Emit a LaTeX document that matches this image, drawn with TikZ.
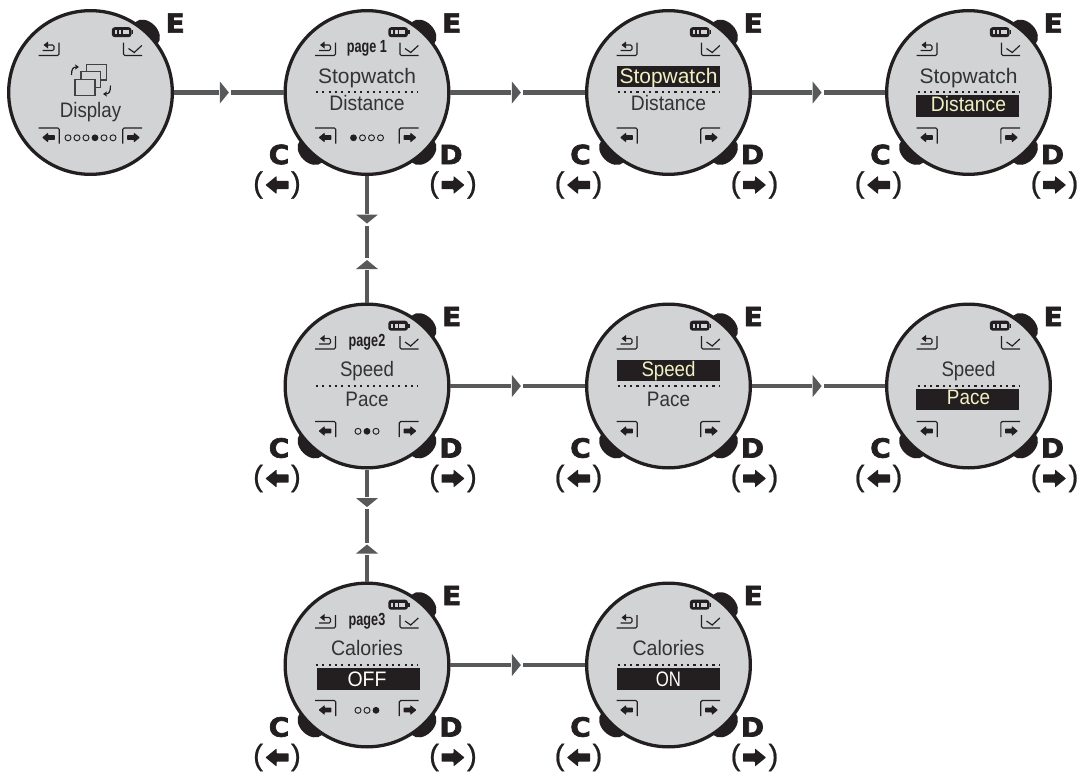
\documentclass[tikz,border=0pt]{standalone}
\usepackage{fontspec}
\usepackage{graphicx}
\setmainfont{Liberation Sans}
\newfontfamily\keyfont[FakeBold=2.6,FakeStretch=1.06]{DejaVu Sans Bold}
\newfontfamily\parenfont[FakeBold=0.8]{Liberation Sans}
\usetikzlibrary{decorations.markings,arrows.meta}
\definecolor{ink}{HTML}{231F20}
\definecolor{lcdgrey}{HTML}{D1D3D4}
\definecolor{connect}{HTML}{58595B}
\definecolor{lcdtext}{HTML}{333335}
\definecolor{lit}{HTML}{F1F0C4}
\newcommand\tipshape{%
  \fill[white] (-5.5,-2.9) rectangle (6.5,2.9);
  \fill[connect] (-4.5,-11) -- (4.5,0) -- (-4.5,11) -- cycle;}
\tikzset{
  x=0.03cm,y=-0.03cm,
  disc/.style={circle,draw=ink,fill=lcdgrey,line width=2.8pt,inner sep=0pt,outer sep=1.4pt,minimum size=4.911cm},
  blob/.style={fill=ink},
  conn/.style={draw=connect,line width=3.5pt},
  tipfwd/.style={postaction={decorate,decoration={markings,mark=at position #1 with {\tipshape}}}},
  tiprev/.style={postaction={decorate,decoration={markings,mark=at position #1 with {\begin{scope}[xscale=-1]\tipshape\end{scope}}}}},
  keyletter/.style={inner sep=0pt,text=ink,font=\keyfont\fontsize{22.5pt}{24pt}\selectfont},
  parens/.style={inner sep=0pt,text=ink,font=\parenfont\fontsize{25pt}{27pt}\selectfont},
  lcdline/.style={inner sep=0pt,anchor=base,text=lcdtext,font=\fontsize{17.9pt}{20pt}\selectfont},
  lcdlit/.style={lcdline,text=lit},
  lcdwhite/.style={lcdline,text=white!92!lit},
  pagelabel/.style={inner sep=0pt,anchor=base,text=ink,font=\bfseries\fontsize{15pt}{17pt}\selectfont},
  softline/.style={draw=ink,line width=0.95pt,line cap=butt,rounded corners=1.2pt},
  hilite/.style={fill=ink},
  dotline/.style={draw=ink,line width=1.7pt,dash pattern=on 1.8pt off 3.6pt},
  pagedot/.style={draw=ink,line width=0.8pt},
  stack/.style={draw=ink!85,fill=lcdgrey,line width=1.1pt},
  hook/.style={draw=ink,line width=1pt,-{Stealth[length=3.5pt,width=4.5pt]}},
  pics/leftglyph/.style={code={
    \fill[ink,rounded corners=0.5pt] (-11.5,0) -- (-0.5,-9) -- (-0.5,-4.2) -- (11.5,-4.2) -- (11.5,4.2) -- (-0.5,4.2) -- (-0.5,9) -- cycle;}},
}
\newcommand\scaledtext[2]{\scalebox{#1}[1]{#2}}
\newcommand\watch[4]{% name, cx, cy, has C/D keys
  \begin{scope}[shift={(#2,#3)}]
    \fill[blob,rotate around={-45:(56,-59.5)}] (56,-59.5) ellipse (15.5 and 11);
    \ifnum#4=1
      \fill[blob,rotate around={-45:(-56,59)}] (-56,59) ellipse (15.5 and 11);
      \fill[blob,rotate around={45:(56,59)}] (56,59) ellipse (15.5 and 11);
    \fi
    \node[disc] (#1) at (0,0) {};
    \node[keyletter] (#1-E) at (84.7,-69.5) {E};
    \ifnum#4=1
      \node[keyletter] (#1-C) at (-88,62) {C};
      \node[keyletter] (#1-D) at (84,62) {D};
      \node[parens] (#1-pl) at (-90,92.5) {(\hspace{24pt})};
      \node[parens] (#1-pr) at (86,92.5) {(\hspace{24pt})};
      \pic at (-90,92.5) {leftglyph};
      \pic[xscale=-1] at (86,92.5) {leftglyph};
    \fi
    % battery
    \fill[ink,rounded corners=2.5pt] (21.3,-65.3) rectangle (41,-55.3);
    \fill[ink] (41,-62.3) rectangle (42.5,-58.3);
    \fill[lcdgrey] (24.2,-62.3) rectangle (26.4,-58.3);
    \fill[lcdgrey] (28.2,-62.3) rectangle (30.6,-58.3);
    \fill[lcdgrey] (32.4,-62.3) rectangle (38.4,-58.3);
    % back softkey
    \draw[softline] (-52,-37) -- (-31.5,-37) -- (-31.5,-50);
    \draw[softline] (-44,-47.5) -- (-36.5,-47.5) -- (-36.5,-42) -- (-48,-42);
    \fill[ink] (-47,-47.5) -- (-42.5,-51) -- (-42.5,-44) -- cycle;
    % confirm softkey
    \draw[softline] (33,-50) -- (33,-37) -- (51.5,-37);
    \draw[draw=ink,line width=1pt] (38,-44) -- (43.7,-40) -- (51.3,-47);
    % arrow softkeys
    \draw[softline] (-52,35.5) -- (-31.3,35.5) -- (-31.3,51);
    \draw[softline] (51.5,35.5) -- (32.3,35.5) -- (32.3,51);
    \pic[scale=0.56] at (-42,45) {leftglyph};
    \pic[xscale=-0.56,yscale=0.56] at (43,45) {leftglyph};
  \end{scope}}
\newcommand\pagedots[4]{% cx, cy, count, filled
  \foreach \k in {1,...,#3}{
    \pgfmathsetmacro\dx{9*(\k-(#3+1)/2)}
    \ifnum\k=#4\relax
      \fill[ink] ({#1+\dx},{#2+45.3}) circle (3.4);
    \else
      \draw[pagedot] ({#1+\dx},{#2+45.3}) circle (3);
    \fi
  }}
\newcommand\dotted[2]{\draw[dotline] ({#1-51},{#2-0.5}) -- ({#1+51},{#2-0.5});}
\begin{document}
\begin{tikzpicture}
\useasboundingbox (0,0) rectangle (1080,774);
\fill[white] (0,0) rectangle (1080,774);
% ---------- row 1 ----------
\watch{w1}{90.5}{92.5}{0}
\watch{w2}{367}{92.5}{1}
\watch{w3}{668.5}{92.5}{1}
\watch{w4}{968.5}{92.5}{1}
% ---------- row 2 ----------
\watch{w5}{367}{386}{1}
\watch{w6}{668.5}{386}{1}
\watch{w7}{968.5}{386}{1}
% ---------- row 3 ----------
\watch{w8}{367}{665}{1}
\watch{w9}{668.5}{665}{1}
% Display screen
\draw[stack] (86.7,64.3) rectangle (106.7,80);
\draw[stack] (81,71.7) rectangle (100.7,87.7);
\draw[stack] (75,79.3) rectangle (95,95.7);
\draw[hook] (71.5,75) .. controls (71.5,69) and (73,67) .. (79,67);
\draw[hook] (110.5,85.5) .. controls (110.5,92) and (109,94) .. (103,94);
\node[lcdline] (w1-t) at (90.5,117.7) {\scaledtext{.89}{Display}};
\pagedots{90.5}{92.5}{6}{4}
% page 1
\node[pagelabel] (w2-page) at (367,52.5) {\scaledtext{.72}{page 1}};
\node[lcdline] (w2-a) at (367,83) {Stopwatch};
\dotted{367}{92.5}
\node[lcdline] (w2-b) at (367,110.7) {\scaledtext{.92}{Distance}};
\pagedots{367}{92.5}{4}{1}
% Stopwatch selected
\fill[hilite] (617.3,66) rectangle (720,87.3);
\node[lcdlit] (w3-a) at (668.5,83) {Stopwatch};
\dotted{668.5}{92.5}
\node[lcdline] (w3-b) at (668.5,110.7) {\scaledtext{.92}{Distance}};
% Distance selected
\node[lcdline] (w4-a) at (968.5,83) {Stopwatch};
\dotted{968.5}{92.5}
\fill[hilite] (916,95) rectangle (1019,116.7);
\node[lcdlit] (w4-b) at (968.5,111) {\scaledtext{.92}{Distance}};
% page 2
\node[pagelabel] (w5-page) at (367,346) {\scaledtext{.72}{page2}};
\node[lcdline] (w5-a) at (367,376.7) {\scaledtext{.89}{Speed}};
\dotted{367}{386}
\node[lcdline] (w5-b) at (367,406) {\scaledtext{.9}{Pace}};
\pagedots{367}{386}{3}{2}
% Speed selected
\fill[hilite] (617.3,360) rectangle (720,381.3);
\node[lcdlit] (w6-a) at (668.5,376.7) {\scaledtext{.89}{Speed}};
\dotted{668.5}{386}
\node[lcdline] (w6-b) at (668.5,406) {\scaledtext{.9}{Pace}};
% Pace selected
\node[lcdline] (w7-a) at (968.5,376.7) {\scaledtext{.89}{Speed}};
\dotted{968.5}{386}
\fill[hilite] (916,388.5) rectangle (1019,410.2);
\node[lcdlit] (w7-b) at (968.5,404.5) {\scaledtext{.9}{Pace}};
% page 3
\node[pagelabel] (w8-page) at (367,625) {\scaledtext{.72}{page3}};
\node[lcdline] (w8-a) at (367,655) {\scaledtext{.935}{Calories}};
\dotted{367}{665}
\fill[hilite] (316.7,667.7) rectangle (420,690);
\node[lcdwhite] (w8-b) at (367,686) {\scaledtext{.93}{OFF}};
\pagedots{367}{665}{3}{3}
% Calories ON
\node[lcdline] (w9-a) at (668.5,655) {\scaledtext{.935}{Calories}};
\dotted{668.5}{665}
\fill[hilite] (617.3,667.7) rectangle (720,690);
\node[lcdwhite] (w9-b) at (668.5,686) {\scaledtext{.8}{ON}};
% ---------- connectors ----------
\draw[conn,tipfwd=.46] (w1.east) -- (w2.west);
\draw[conn,tipfwd=.49] (w2.east) -- (w3.west);
\draw[conn,tipfwd=.49] (w3.east) -- (w4.west);
\draw[conn,tipfwd=.49] (w5.east) -- (w6.west);
\draw[conn,tipfwd=.49] (w6.east) -- (w7.west);
\draw[conn,tipfwd=.49] (w8.east) -- (w9.west);
\draw[conn,tipfwd=.34,tiprev=.70] (w2.south) -- (w5.north);
\draw[conn,tipfwd=.295,tiprev=.71] (w5.south) -- (w8.north);
\end{tikzpicture}
\end{document}
